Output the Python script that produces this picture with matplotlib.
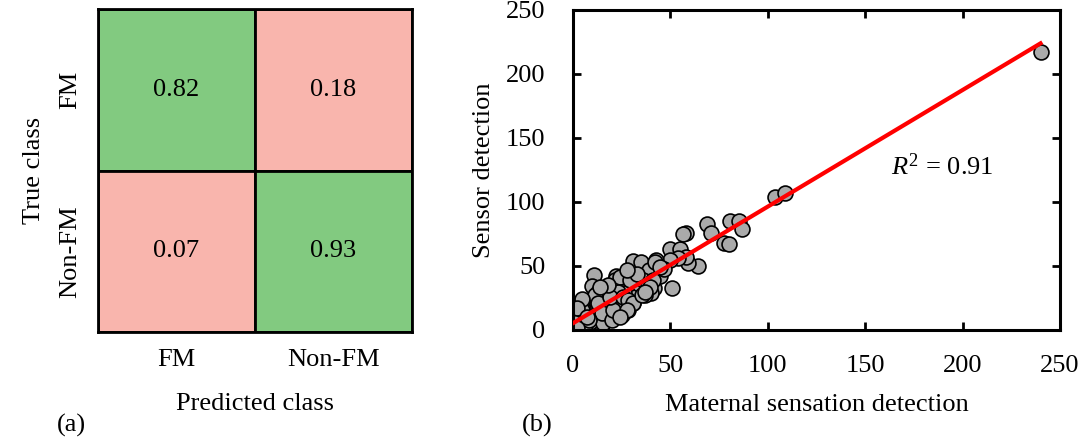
import numpy as np
import matplotlib
matplotlib.use("Agg")
import matplotlib.pyplot as plt

plt.rcParams['font.family'] = ['Liberation Serif', 'DejaVu Serif']
plt.rcParams['mathtext.fontset'] = 'custom'
plt.rcParams['mathtext.rm'] = 'Liberation Serif'
plt.rcParams['mathtext.it'] = 'Liberation Serif:italic'

# confusion matrix (rows = true, cols = predicted)
classes = ["FM", "Non-FM"]
conf = [[0.82, 0.18],
        [0.07, 0.93]]

# scatter: maternal sensation vs sensor detection
maternal = [240, 103.7, 108.9, 69, 71, 80.7, 85, 87, 77.6, 80, 58, 49.7, 55, 64, 59, 58, 53.8,
            50.7, 50, 42.5, 30.6, 34.7, 38.8, 44.6, 41.5, 40, 36.8, 30, 25, 22, 20, 10.7, 9.7,
            12.7, 19, 16, 12.7, 4.5, 5, 4.5, 1.4, 0, 2.5, 3.5, 25, 28, 31, 32, 26, 27, 23, 15,
            11.7, 8.6, 18, 23, 34, 36, 38.6, 46.6, 0.2, 3.6, 4.5, 4.5, 11.3, 13, 10.4, 15.6,
            14.7, 19.9, 20.7, 21.6, 24.1, 23.3, 19, 18.1, 25.8, 29.3, 28.4, 31, 27.6, 24.1,
            35.3, 41.2, 39.5, 37, 42.1, 44.7, 56.7, 32.7, 27.6, 13.9, 4.5, 1.9, 6, 8, 2, 7]
sensor = [217, 104, 107, 83, 76, 85, 85, 79, 68, 67, 76, 63, 63, 50, 52, 57, 56,
          33, 55, 55, 54, 53, 47, 42, 32.5, 29, 27, 40, 40, 42, 35, 43, 34,
          30, 29, 21, 14, 22, 17, 13, 9, 0.5, 3, 5, 12, 16, 21, 26, 29, 23, 20, 4,
          9, 6.5, 12, 27, 36, 39, 34, 48, 1.3, 7.8, 22, 15.6, 27, 20.8, 10.4, 5.2,
          13, 7.8, 15.6, 39, 41.5, 29.8, 26, 35, 26, 39, 23.4, 20.8, 15.6, 10.4,
          27.3, 39, 33.7, 29.8, 53.2, 49.3, 75.3, 44, 46.7, 33.7, 24, 17, 4, 8, 1.5, 10]
# regression line as drawn in the figure
fit_slope = 0.911
fit_intercept = 5.3
fit_range = [0.5, 240]
r2_label = r"$\it{R}^{2}$ = 0.91"

green = "#82ca80"
pink = "#f9b5ad"
fs = 19

fig = plt.figure(figsize=(10.83, 4.45), dpi=100)

# ---- (a) confusion matrix
ax1 = fig.add_axes([98 / 1083, 1 - 332 / 445, 314 / 1083, 323 / 445])
cols = [[green, pink], [pink, green]]
for i in range(2):
    for j in range(2):
        ax1.add_patch(plt.Rectangle((j, i), 1, 1, facecolor=cols[i][j],
                                    edgecolor="black", linewidth=2))
        ax1.text(j + 0.5, i + 0.5, f"{conf[i][j]:.2f}", ha="center", va="center",
                 fontsize=fs)
ax1.set_xlim(0, 2)
ax1.set_ylim(2, 0)
ax1.set_xticks([0.5, 1.5])
ax1.set_xticklabels(classes, fontsize=fs)
ax1.set_yticks([0.5, 1.5])
ax1.set_yticklabels(classes, fontsize=fs, rotation=90, va="center")
ax1.tick_params(length=0, pad=12)
for s in ax1.spines.values():
    s.set_linewidth(2)
ax1.set_xlabel("Predicted class", fontsize=fs, labelpad=16)
ax1.set_ylabel("True class", fontsize=fs, labelpad=10)
fig.text(57 / 1083, 1 - 425 / 445, "(a)", fontsize=fs, ha="left", va="center")

# ---- (b) scatter with fit
ax2 = fig.add_axes([573 / 1083, 1 - 330 / 445, 487 / 1083, 320 / 445])
x = np.array(maternal)
y = np.array(sensor)
ax2.scatter(x, y, s=115, facecolor="#aaaaaa", edgecolor="black", linewidth=1.2, zorder=2)
xf = np.array(fit_range)
ax2.plot(xf, fit_slope * xf + fit_intercept, color="red", linewidth=3, zorder=3)
ax2.text(163, 128, r2_label, fontsize=fs, ha="left", va="center")
ax2.set_xlim(0, 250)
ax2.set_ylim(0, 250)
ax2.set_xticks(range(0, 251, 50))
ax2.set_yticks(range(0, 251, 50))
ax2.tick_params(direction="in", length=6, width=2, top=True, right=True,
                labelsize=fs)
ax2.tick_params(axis="x", pad=18)
ax2.tick_params(axis="y", pad=20)
for s in ax2.spines.values():
    s.set_linewidth(2.2)
ax2.set_xlabel("Maternal sensation detection", fontsize=fs, labelpad=12)
ax2.set_ylabel("Sensor detection", fontsize=fs, labelpad=8)
fig.text(522 / 1083, 1 - 425 / 445, "(b)", fontsize=fs, ha="left", va="center")

fig.savefig("out.png", dpi=100)
